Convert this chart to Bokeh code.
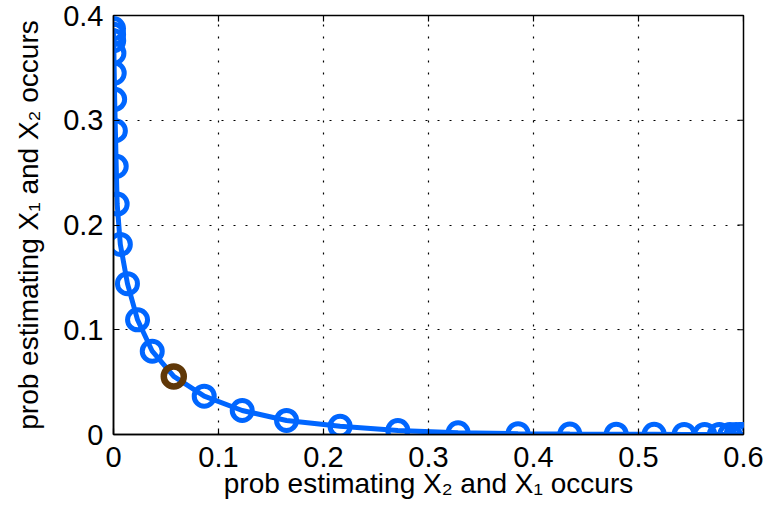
from bokeh.plotting import figure
from bokeh.models import FixedTicker, Range1d
from bokeh.embed import file_html
from bokeh.resources import INLINE

# Data
x_vals = [0.0000, 0.0001, 0.0002, 0.0004, 0.0007, 0.0011, 0.0018, 0.0026, 0.0035,
          0.0065, 0.0133, 0.0229, 0.0369, 0.0574, 0.0864, 0.1226, 0.1648, 0.2158,
          0.2708, 0.3282, 0.3853, 0.4346, 0.4788, 0.5149, 0.5435, 0.5630, 0.5770,
          0.5870, 0.5930, 0.5970, 0.5990, 0.6000]
y_vals = [0.3875, 0.3820, 0.3760, 0.3640, 0.3450, 0.3200, 0.2900, 0.2560, 0.2200,
          0.1815, 0.1440, 0.1095, 0.0795, 0.0554, 0.0366, 0.0229, 0.0134, 0.0079,
          0.0038, 0.0016, 0.0008, 0.0005, 0.0003, 0.0002, 0.0001, 0.00005, 0.0,
          0.0, 0.0, 0.0, 0.0, 0.0]
highlight_x = [0.0574]
highlight_y = [0.0554]
x_ticks = [0, 0.1, 0.2, 0.3, 0.4, 0.5, 0.6]
y_ticks = [0, 0.1, 0.2, 0.3, 0.4]
tick_labels_x = ["0", "0.1", "0.2", "0.3", "0.4", "0.5", "0.6"]
tick_labels_y = ["0", "0.1", "0.2", "0.3", "0.4"]
x_label = "prob estimating X\u2082 and X\u2081 occurs"
y_label = "prob estimating X\u2081 and X\u2082 occurs"

FONT = "Liberation Sans"
BLUE = "#0066ff"
BROWN = "#603808"
X_MIN, X_MAX = 0, 0.6
Y_MIN, Y_MAX = 0, 0.4

p = figure(width=765, height=515, output_backend="svg", toolbar_location=None,
           x_range=Range1d(X_MIN, X_MAX), y_range=Range1d(Y_MIN, Y_MAX),
           min_border_left=113, min_border_right=22, min_border_top=15,
           min_border_bottom=81)
p.background_fill_color = "white"
p.border_fill_color = "white"
p.outline_line_color = "black"
p.outline_line_width = 1.5

for ax, ticks, labels in ((p.xaxis[0], x_ticks, tick_labels_x), (p.yaxis[0], y_ticks, tick_labels_y)):
    ax.ticker = FixedTicker(ticks=ticks)
    ax.major_label_overrides = {t: l for t, l in zip(ticks, labels)}
    ax.minor_tick_line_color = None
    ax.major_tick_in = 6
    ax.major_tick_out = 0
    ax.axis_line_color = "black"
    ax.axis_line_width = 1.5
    ax.major_tick_line_color = "black"
    ax.major_tick_line_width = 1.2
    ax.major_label_text_font = FONT
    ax.major_label_text_font_size = "29px"
    ax.major_label_text_color = "black"
    ax.axis_label_text_font = FONT
    ax.axis_label_text_font_size = "28px"
    ax.axis_label_text_font_style = "normal"
    ax.axis_label_text_color = "black"

p.xaxis[0].axis_label = x_label
p.yaxis[0].axis_label = y_label
p.xaxis[0].major_label_standoff = 12
p.yaxis[0].major_label_standoff = 10
p.xaxis[0].axis_label_standoff = -2
p.yaxis[0].axis_label_standoff = 16

# inward ticks on the top and right edges of the box
p.ray(x=x_ticks, y=[Y_MAX] * len(x_ticks), length=6, length_units="screen",
      angle=-90, angle_units="deg", line_color="black", line_width=1.2)
p.ray(x=[X_MAX] * len(y_ticks), y=y_ticks, length=6, length_units="screen",
      angle=180, angle_units="deg", line_color="black", line_width=1.2)

for g, ticks in ((p.xgrid[0], x_ticks), (p.ygrid[0], y_ticks)):
    g.ticker = FixedTicker(ticks=ticks)
    g.grid_line_color = "black"
    g.grid_line_dash = "2 10"
    g.grid_line_width = 1.2

p.line(x_vals, y_vals, line_color=BLUE, line_width=5)
p.scatter(x_vals, y_vals, marker="circle", size=20, fill_color=None,
          line_color=BLUE, line_width=5)
p.scatter(highlight_x, highlight_y, marker="circle", size=20, fill_color=None,
          line_color=BROWN, line_width=6.5)

open("out.html", "w").write(file_html(p, INLINE))
